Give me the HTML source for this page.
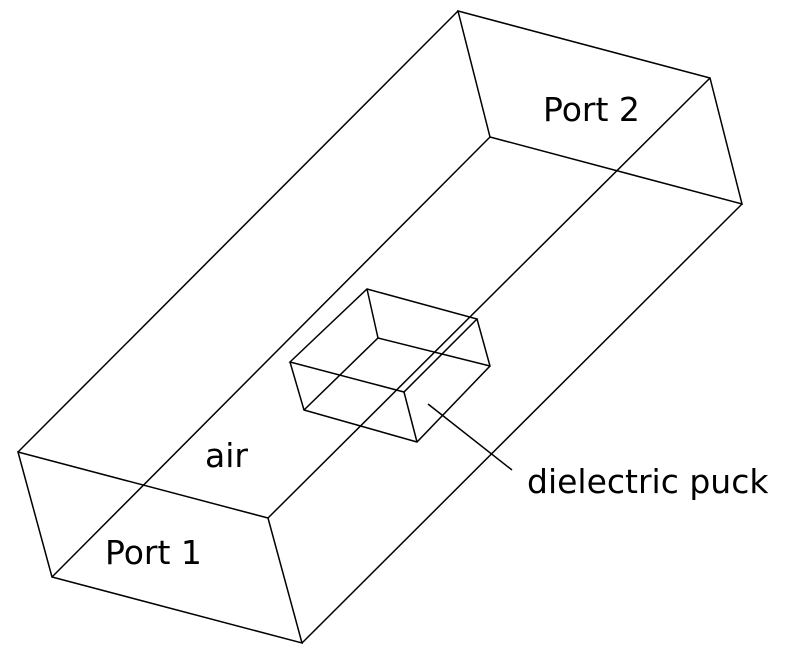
<!DOCTYPE html>
<html><head><meta charset="utf-8"><style>
html,body{margin:0;padding:0;background:#fff;}
svg{display:block;}
text{font-family:"DejaVu Sans","Liberation Sans",sans-serif;font-size:33px;fill:#000;}
</style></head><body>
<svg width="786" height="665" viewBox="0 0 786 665">
<g stroke="#000" stroke-width="1.5" fill="none">
<polygon points="18,452 268,518 302,643 52,577"/>
<polygon points="458,11 710,78 742,204 490,137"/>
<line x1="18" y1="452" x2="458" y2="11"/>
<line x1="268" y1="518" x2="710" y2="78"/>
<line x1="302" y1="643" x2="742" y2="204"/>
<line x1="52" y1="577" x2="490" y2="137"/>
</g>
<g stroke="#000" stroke-width="1.5" fill="none">
<polygon points="290,362 367,289 477,319 404,392"/>
<polyline points="290,362 304,410 417,442 490,366 477,319"/>
<line x1="404" y1="392" x2="417" y2="442"/>
<polyline points="304,410 378,338 490,366"/>
<line x1="367" y1="289" x2="378" y2="338"/>
<line x1="428" y1="404" x2="512" y2="470"/>
</g>
<text x="543" y="121">Port 2</text>
<text x="105" y="564">Port 1</text>
<text x="205" y="467">air</text>
<text x="527" y="493">dielectric puck</text>
</svg>
</body></html>
